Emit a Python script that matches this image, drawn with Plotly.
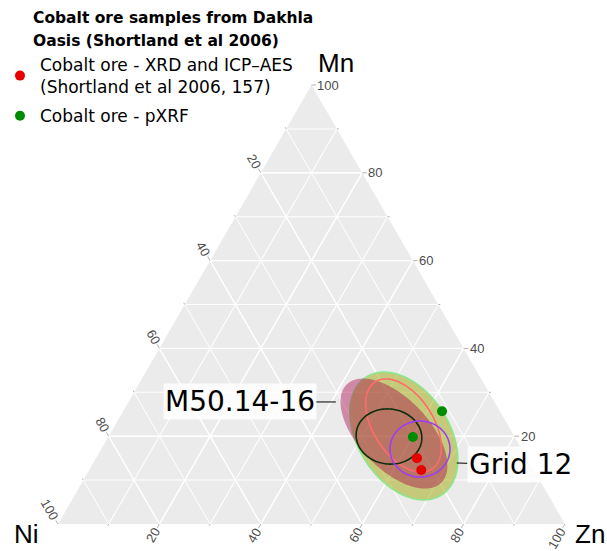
import numpy as np
import plotly.graph_objects as go

# ---------------- data (percent) ----------------
xrd_mn = [15.0, 12.3]
xrd_zn = [63.3, 65.5]
xrd_ni = [21.7, 22.2]

pxrf_mn = [25.7, 19.8]
pxrf_zn = [62.9, 60.1]
pxrf_ni = [11.4, 20.1]

# ellipse summaries (centre Mn, Zn in %, semi-axes in % of side, tilt deg)
ell_names = ["Grid 12", "M50.14-16", "ellipse salmon", "ellipse darkgreen", "ellipse purple"]
ell_mn = [20.05, 20.6, 22.44, 19.93, 17.08]
ell_zn = [58.2, 55.97, 56.93, 55.32, 62.86]
ell_a = [13.8, 13.45, 10.26, 6.5, 5.92]
ell_b = [9.03, 6.94, 5.9, 5.42, 5.52]
ell_tilt = [57.4, 46.4, 57.0, 8.0, 0.0]
ell_fill = ["rgba(160,170,10,0.5)", "rgba(170,0,70,0.42)", "rgba(0,0,0,0)", "rgba(0,0,0,0)", "rgba(0,0,0,0)"]
ell_line = ["rgba(140,230,140,1)", "rgba(0,0,0,0)", "#FF6B6B", "#0B2E0B", "#9B3FF0"]

tick_vals = [10, 20, 30, 40, 50, 60, 70, 80, 90, 100]
major_vals = [20, 40, 60, 80]

S = np.sqrt(3) / 2


def ellipse_path(mn, zn, a, b, tilt):
    t = np.linspace(0, 2 * np.pi, 181)
    th = np.radians(tilt)
    xc, yc = zn + mn / 2, mn * S
    X = xc + a * np.cos(t) * np.cos(th) + b * np.sin(t) * np.sin(th)
    Y = yc - a * np.cos(t) * np.sin(th) + b * np.sin(t) * np.cos(th)
    m = Y / S
    z = X - m / 2
    n = 100 - m - z
    return m, n, z


fig = go.Figure()

# major grid lines
ga, gb, gc = [], [], []
for v in major_vals:
    ga += [v, v, None, 100 - v, 0, None, 100 - v, 0, None]
    gb += [100 - v, 0, None, v, v, None, 0, 100 - v, None]
    gc += [0, 100 - v, None, 0, 100 - v, None, v, v, None]
fig.add_trace(go.Scatterternary(a=ga, b=gb, c=gc, mode="lines",
                                line=dict(color="white", width=1.3),
                                hoverinfo="skip", showlegend=False))

for i in range(len(ell_names)):
    m, n, z = ellipse_path(ell_mn[i], ell_zn[i], ell_a[i], ell_b[i], ell_tilt[i])
    filled = i < 2
    fig.add_trace(go.Scatterternary(
        a=m, b=n, c=z, mode="lines", name=ell_names[i],
        fill="toself" if filled else "none",
        fillcolor=ell_fill[i],
        line=dict(color=ell_line[i], width=1.6),
        hoverinfo="skip", showlegend=False))

fig.add_trace(go.Scatterternary(
    a=xrd_mn, b=xrd_ni, c=xrd_zn, mode="markers",
    name="Cobalt ore - XRD and ICP–AES<br>(Shortland et al 2006, 157)",
    legendgroup="g1",
    marker=dict(color="#E60000", size=10)))
fig.add_trace(go.Scatterternary(
    a=pxrf_mn, b=pxrf_ni, c=pxrf_zn, mode="markers",
    name="Cobalt ore - pXRF",
    legendgroup="g2",
    marker=dict(color="#008C00", size=10)))

# ---------------- layout ----------------
W, H = 607, 551


def sp(sx, sy):
    return sx / W, 1 - sy / H


x0, y0 = sp(58, 524)
x1, y1 = sp(565, 85)


def to_paper(mn, zn):
    X = (zn + mn / 2) / 100
    return x0 + X * (x1 - x0), y0 + mn / 100 * (y1 - y0)


ax_style = dict(showgrid=True, gridcolor="white", gridwidth=0.6, dtick=10, tick0=0,
                showticklabels=False, ticks="", showline=False, min=0, title=dict(text=""))

annotations = []
tick_font = dict(family="Liberation Sans, Arial", size=13, color="#4D4D4D")
for v in tick_vals:
    labelled = v % 20 == 0
    txt = str(v) if labelled else ""
    w = 7.2 * len(txt)
    d = (6 + w / 2) if labelled else 3.5
    # Mn (right edge)
    px, py = to_paper(v, 100 - v)
    annotations.append(dict(x=px, y=py, xref="paper", yref="paper", text=txt,
                            showarrow=True, arrowhead=0, arrowwidth=0.6, arrowcolor="#7F7F7F",
                            ax=d, ay=0, standoff=0, font=tick_font, textangle=0))
    # Ni (left edge)
    px, py = to_paper(100 - v, 0)
    annotations.append(dict(x=px, y=py, xref="paper", yref="paper", text=txt,
                            showarrow=True, arrowhead=0, arrowwidth=0.6, arrowcolor="#7F7F7F",
                            ax=-0.5 * d, ay=-S * d, standoff=0, font=tick_font, textangle=60))
    # Zn (bottom edge)
    px, py = to_paper(0, v)
    annotations.append(dict(x=px, y=py, xref="paper", yref="paper", text=txt,
                            showarrow=True, arrowhead=0, arrowwidth=0.6, arrowcolor="#7F7F7F",
                            ax=-0.5 * d, ay=S * d, standoff=0, font=tick_font, textangle=-60))

corner_font = dict(family="Liberation Sans, Arial", size=26, color="black")
mx, my = to_paper(100, 0)
annotations.append(dict(x=mx, y=my, xref="paper", yref="paper", text="Mn", showarrow=False,
                        xanchor="center", yanchor="middle", xshift=24.5, yshift=22, font=corner_font))
nx, _ = to_paper(0, 0)
annotations.append(dict(x=nx, y=0, xref="paper", yref="paper", text="Ni", showarrow=False,
                        xanchor="center", yanchor="bottom", xshift=-32, yshift=0, font=corner_font))
zx, _ = to_paper(0, 100)
annotations.append(dict(x=zx, y=0, xref="paper", yref="paper", text="Zn", showarrow=False,
                        xanchor="center", yanchor="bottom", xshift=25, yshift=0, font=corner_font))

label_font = dict(family="DejaVu Sans", size=28, color="black")
lx, ly = to_paper(27.8, 40.9)
annotations.append(dict(x=lx, y=ly, xref="paper", yref="paper", text="M50.14-16",
                        showarrow=True, arrowhead=0, arrowwidth=1, arrowcolor="black",
                        ax=-96, ay=0, standoff=0, bgcolor="rgba(255,255,255,0.85)",
                        borderpad=1, font=label_font))
lx, ly = to_paper(13.9, 71.7)
annotations.append(dict(x=lx, y=ly, xref="paper", yref="paper", text="Grid 12",
                        showarrow=True, arrowhead=0, arrowwidth=1, arrowcolor="black",
                        ax=63.5, ay=2, standoff=0, bgcolor="rgba(255,255,255,0.85)",
                        borderpad=1, font=label_font))

# legend title lines
title_lines = ["<b>Cobalt ore samples from Dakhla</b>", "<b>Oasis (Shortland et al 2006)</b>"]
for k, line in enumerate(title_lines):
    tx, ty = sp(31, 18 + 23 * k)
    annotations.append(dict(x=tx, y=ty, xref="paper", yref="paper", xanchor="left", yanchor="middle",
                            align="left", showarrow=False, text=line,
                            font=dict(family="DejaVu Sans", size=15.5, color="black")))

lgx, lgy = sp(0, 47)
fig.update_layout(
    width=W, height=H,
    margin=dict(l=0, r=0, t=0, b=0),
    paper_bgcolor="white",
    font=dict(family="DejaVu Sans"),
    ternary=dict(
        domain=dict(x=[x0, x1], y=[y0, y1]),
        sum=100,
        bgcolor="#EBEBEB",
        aaxis=ax_style, baxis=ax_style, caxis=ax_style,
    ),
    legend=dict(
        x=lgx, y=lgy, xanchor="left", yanchor="top",
        bgcolor="rgba(0,0,0,0)",
        font=dict(family="DejaVu Sans", size=17, color="black"),
        itemwidth=30,
        tracegroupgap=4,
    ),
    annotations=annotations,
)

fig.write_html("out.html",
               config={"displayModeBar": False},
               post_script="document.body.style.margin='0px';document.body.style.padding='0px';")
